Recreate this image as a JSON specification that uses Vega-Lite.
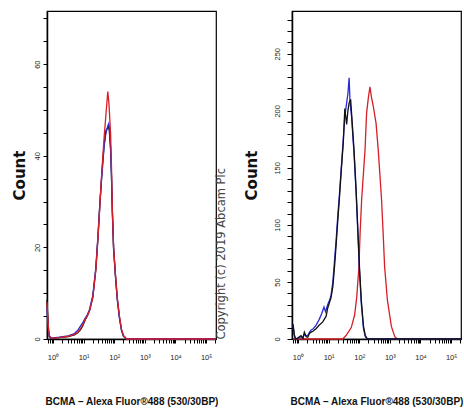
{
  "$schema": "https://vega.github.io/schema/vega-lite/v6.json",
  "background": "white",
  "padding": {"left": 11, "top": 10, "right": 2, "bottom": 2},
  "spacing": 15,
  "config": {
    "view": {"stroke": "#000", "strokeWidth": 1.2},
    "axis": {"grid": false, "domainColor": "#000", "tickColor": "#000", "labelColor": "#222", "labelFont": "Liberation Sans", "labelFontSize": 7.5, "domainWidth": 1.5, "labelOverlap": false, "labelFlush": false}
  },
  "datasets": {
    "left": [
      {"series":"Black","x":0.64,"count":8.5},{"series":"Black","x":0.661,"count":6.5},{"series":"Black","x":0.72,"count":2},{"series":"Black","x":0.76,"count":0.5},{"series":"Black","x":0.89,"count":0.1},{"series":"Black","x":1.6,"count":0.3},{"series":"Black","x":3.16,"count":0.5},{"series":"Black","x":5.0,"count":0.9},{"series":"Black","x":6.3,"count":1.3},{"series":"Black","x":7.9,"count":2.0},{"series":"Black","x":9.3,"count":2.8},{"series":"Black","x":11.2,"count":4.1},{"series":"Black","x":13.2,"count":5.0},{"series":"Black","x":15.8,"count":6.3},{"series":"Black","x":20,"count":9.2},{"series":"Black","x":25.1,"count":15.2},{"series":"Black","x":29.5,"count":22.2},{"series":"Black","x":33.9,"count":29.2},{"series":"Black","x":39.8,"count":36.5},{"series":"Black","x":46.8,"count":42.5},{"series":"Black","x":53.7,"count":45.5},{"series":"Black","x":61.7,"count":46},{"series":"Black","x":66.1,"count":46.5},{"series":"Black","x":69.2,"count":45.5},{"series":"Black","x":75.9,"count":41.5},{"series":"Black","x":81.3,"count":35.5},{"series":"Black","x":87.1,"count":27.5},{"series":"Black","x":95.5,"count":19.5},{"series":"Black","x":110,"count":13.8},{"series":"Black","x":126,"count":8.8},{"series":"Black","x":148,"count":4.8},{"series":"Black","x":174,"count":1.9},{"series":"Black","x":200,"count":0.7},{"series":"Black","x":251,"count":0},{"series":"Black","x":1000,"count":0},{"series":"Black","x":210000,"count":0},
      {"series":"Blue","x":0.64,"count":7},{"series":"Blue","x":0.661,"count":5},{"series":"Blue","x":0.72,"count":1.5},{"series":"Blue","x":0.76,"count":0.5},{"series":"Blue","x":0.89,"count":0.2},{"series":"Blue","x":1.6,"count":0.4},{"series":"Blue","x":3.16,"count":0.7},{"series":"Blue","x":5.0,"count":1.2},{"series":"Blue","x":6.3,"count":1.8},{"series":"Blue","x":7.9,"count":2.8},{"series":"Blue","x":9.3,"count":3.5},{"series":"Blue","x":11.2,"count":4.5},{"series":"Blue","x":13.2,"count":5.3},{"series":"Blue","x":15.8,"count":6.5},{"series":"Blue","x":20,"count":9.5},{"series":"Blue","x":25.1,"count":15.5},{"series":"Blue","x":29.5,"count":22.5},{"series":"Blue","x":33.9,"count":29.5},{"series":"Blue","x":39.8,"count":36},{"series":"Blue","x":46.8,"count":42},{"series":"Blue","x":53.7,"count":45},{"series":"Blue","x":61.7,"count":46.5},{"series":"Blue","x":66.1,"count":47},{"series":"Blue","x":69.2,"count":46},{"series":"Blue","x":75.9,"count":42},{"series":"Blue","x":81.3,"count":36},{"series":"Blue","x":87.1,"count":28},{"series":"Blue","x":95.5,"count":20},{"series":"Blue","x":110,"count":13.5},{"series":"Blue","x":126,"count":8.5},{"series":"Blue","x":148,"count":4.5},{"series":"Blue","x":174,"count":1.8},{"series":"Blue","x":200,"count":0.6},{"series":"Blue","x":251,"count":0},{"series":"Blue","x":1000,"count":0},{"series":"Blue","x":210000,"count":0},
      {"series":"Red","x":0.64,"count":8},{"series":"Red","x":0.661,"count":6},{"series":"Red","x":0.72,"count":2},{"series":"Red","x":0.76,"count":0.8},{"series":"Red","x":0.89,"count":0.2},{"series":"Red","x":1.6,"count":0.3},{"series":"Red","x":3.16,"count":0.6},{"series":"Red","x":5.0,"count":1.0},{"series":"Red","x":6.3,"count":1.4},{"series":"Red","x":7.9,"count":2.2},{"series":"Red","x":9.3,"count":3.0},{"series":"Red","x":11.2,"count":4.3},{"series":"Red","x":13.2,"count":5.0},{"series":"Red","x":15.8,"count":6.2},{"series":"Red","x":20,"count":9},{"series":"Red","x":25.1,"count":15},{"series":"Red","x":29.5,"count":22},{"series":"Red","x":33.9,"count":29},{"series":"Red","x":39.8,"count":37},{"series":"Red","x":46.8,"count":44},{"series":"Red","x":53.7,"count":49},{"series":"Red","x":61.7,"count":54},{"series":"Red","x":66.1,"count":52},{"series":"Red","x":69.2,"count":50},{"series":"Red","x":75.9,"count":45},{"series":"Red","x":81.3,"count":38},{"series":"Red","x":87.1,"count":28},{"series":"Red","x":95.5,"count":20},{"series":"Red","x":110,"count":14},{"series":"Red","x":126,"count":9},{"series":"Red","x":148,"count":5},{"series":"Red","x":174,"count":2},{"series":"Red","x":200,"count":0.8},{"series":"Red","x":251,"count":0},{"series":"Red","x":1000,"count":0},{"series":"Red","x":210000,"count":0}
    ],
    "right": [
      {"series":"Red","x":0.69,"count":0},{"series":"Red","x":28.8,"count":0},{"series":"Red","x":37.2,"count":3},{"series":"Red","x":55,"count":10},{"series":"Red","x":70.8,"count":21},{"series":"Red","x":83.2,"count":37},{"series":"Red","x":97.7,"count":63},{"series":"Red","x":107,"count":93},{"series":"Red","x":120,"count":122},{"series":"Red","x":155,"count":166},{"series":"Red","x":174,"count":198},{"series":"Red","x":200,"count":212},{"series":"Red","x":224,"count":221},{"series":"Red","x":251,"count":212},{"series":"Red","x":288,"count":204},{"series":"Red","x":355,"count":189},{"series":"Red","x":417,"count":166},{"series":"Red","x":537,"count":122},{"series":"Red","x":603,"count":93},{"series":"Red","x":676,"count":63},{"series":"Red","x":832,"count":34},{"series":"Red","x":1122,"count":11},{"series":"Red","x":1445,"count":2},{"series":"Red","x":1778,"count":0},{"series":"Red","x":210000,"count":0},
      {"series":"Blue","x":0.69,"count":12},{"series":"Blue","x":0.76,"count":3},{"series":"Blue","x":0.83,"count":0},{"series":"Blue","x":1.0,"count":0.5},{"series":"Blue","x":1.26,"count":2},{"series":"Blue","x":1.45,"count":1},{"series":"Blue","x":1.62,"count":4},{"series":"Blue","x":1.86,"count":3},{"series":"Blue","x":2.09,"count":3},{"series":"Blue","x":2.4,"count":6},{"series":"Blue","x":2.69,"count":8},{"series":"Blue","x":3.16,"count":9},{"series":"Blue","x":3.89,"count":12},{"series":"Blue","x":4.9,"count":17},{"series":"Blue","x":5.89,"count":22},{"series":"Blue","x":7.08,"count":28},{"series":"Blue","x":7.94,"count":24},{"series":"Blue","x":9.33,"count":30},{"series":"Blue","x":10.7,"count":34},{"series":"Blue","x":12.0,"count":38},{"series":"Blue","x":13.8,"count":50},{"series":"Blue","x":15.8,"count":70},{"series":"Blue","x":17.8,"count":88},{"series":"Blue","x":20.0,"count":108},{"series":"Blue","x":22.4,"count":125},{"series":"Blue","x":26.3,"count":152},{"series":"Blue","x":30.2,"count":175},{"series":"Blue","x":33.9,"count":195},{"series":"Blue","x":38.0,"count":205},{"series":"Blue","x":42.7,"count":215},{"series":"Blue","x":46.8,"count":229},{"series":"Blue","x":50.1,"count":208},{"series":"Blue","x":56.2,"count":195},{"series":"Blue","x":67.6,"count":163},{"series":"Blue","x":79.4,"count":128},{"series":"Blue","x":91.2,"count":90},{"series":"Blue","x":102,"count":60},{"series":"Blue","x":117,"count":31},{"series":"Blue","x":138,"count":9},{"series":"Blue","x":158,"count":2},{"series":"Blue","x":186,"count":0},{"series":"Blue","x":210000,"count":0},
      {"series":"Black","x":0.69,"count":13},{"series":"Black","x":0.76,"count":4},{"series":"Black","x":0.83,"count":0},{"series":"Black","x":1.0,"count":1},{"series":"Black","x":1.26,"count":3},{"series":"Black","x":1.45,"count":0.5},{"series":"Black","x":1.62,"count":6},{"series":"Black","x":1.86,"count":2},{"series":"Black","x":2.09,"count":1.5},{"series":"Black","x":2.4,"count":5},{"series":"Black","x":2.69,"count":6},{"series":"Black","x":3.16,"count":7},{"series":"Black","x":3.89,"count":9},{"series":"Black","x":4.9,"count":12},{"series":"Black","x":6.46,"count":15},{"series":"Black","x":8.32,"count":20},{"series":"Black","x":9.33,"count":27},{"series":"Black","x":10.7,"count":32},{"series":"Black","x":12.0,"count":36},{"series":"Black","x":13.8,"count":46},{"series":"Black","x":15.8,"count":65},{"series":"Black","x":17.8,"count":84},{"series":"Black","x":20.0,"count":104},{"series":"Black","x":22.4,"count":122},{"series":"Black","x":26.3,"count":150},{"series":"Black","x":30.2,"count":172},{"series":"Black","x":33.9,"count":202},{"series":"Black","x":36.3,"count":195},{"series":"Black","x":38.9,"count":188},{"series":"Black","x":42.7,"count":200},{"series":"Black","x":46.8,"count":207},{"series":"Black","x":52.5,"count":210},{"series":"Black","x":58.9,"count":190},{"series":"Black","x":67.6,"count":166},{"series":"Black","x":79.4,"count":130},{"series":"Black","x":91.2,"count":93},{"series":"Black","x":102,"count":63},{"series":"Black","x":117,"count":34},{"series":"Black","x":138,"count":11},{"series":"Black","x":158,"count":3},{"series":"Black","x":186,"count":0},{"series":"Black","x":210000,"count":0}
    ]
  },
  "hconcat": [
    {
      "width": 169,
      "height": 328,
      "data": {"name": "left"},
      "layer": [
        {
          "mark": {"type": "line", "strokeWidth": 1.3},
          "encoding": {
            "x": {"field": "x", "type": "quantitative", "scale": {"type": "log", "domain": [0.64, 210000], "nice": false},
              "axis": {"values": [0.7,0.8,0.9,1,2,3,4,5,6,7,8,9,10,20,30,40,50,60,70,80,90,100,200,300,400,500,600,700,800,900,1000,2000,3000,4000,5000,6000,7000,8000,9000,10000,20000,30000,40000,50000,60000,70000,80000,90000,100000,200000],
                "labelExpr": "indexof([1,10,100,1000,10000,100000], datum.value) >= 0 ? '10' + ['⁰','¹','²','³','⁴','⁵'][indexof([1,10,100,1000,10000,100000], datum.value)] : ''",
                "tickSize": 4, "labelPadding": 10, "title": "BCMA – Alexa Fluor®488 (530/30BP)", "titleFont": "Liberation Sans", "titleFontSize": 10, "titleFontWeight": "bold", "titleColor": "#111", "titlePadding": 36}},
            "y": {"field": "count", "type": "quantitative", "scale": {"domain": [0, 71.6], "nice": false},
              "axis": {"values": [0,5,10,15,20,25,30,35,40,45,50,55,60,65,70], "labelExpr": "datum.value % 20 == 0 ? datum.label : ''", "labelAngle": 270, "tickSize": 4, "labelPadding": 2, "title": "Count", "titleFont": "DejaVu Sans", "titleFontSize": 15, "titleFontWeight": "bold", "titleColor": "#111", "titlePadding": 6}},
            "color": {"field": "series", "type": "nominal", "scale": {"domain": ["Black", "Blue", "Red"], "range": ["#111111", "#2a2ad8", "#d61f26"]}, "legend": null}
          }
        },
        {
          "mark": {"type": "rule", "opacity": 0},
          "encoding": {
            "y": {"datum": 0, "type": "quantitative", "axis": {"orient": "right", "labels": false, "ticks": false, "domain": false, "title": "Copyright (c) 2019 Abcam Plc", "titleAngle": 270, "titleFont": "DejaVu Sans", "titleFontSize": 11.5, "titleFontWeight": "normal", "titleColor": "#444", "titlePadding": 10, "titleAnchor": "start"}}
          }
        }
      ],
      "resolve": {"axis": {"y": "independent"}}
    },
    {
      "width": 169,
      "height": 328,
      "data": {"name": "right"},
      "mark": {"type": "line", "strokeWidth": 1.3},
      "encoding": {
        "x": {"field": "x", "type": "quantitative", "scale": {"type": "log", "domain": [0.64, 210000], "nice": false},
          "axis": {"values": [0.7,0.8,0.9,1,2,3,4,5,6,7,8,9,10,20,30,40,50,60,70,80,90,100,200,300,400,500,600,700,800,900,1000,2000,3000,4000,5000,6000,7000,8000,9000,10000,20000,30000,40000,50000,60000,70000,80000,90000,100000,200000],
            "labelExpr": "indexof([1,10,100,1000,10000,100000], datum.value) >= 0 ? '10' + ['⁰','¹','²','³','⁴','⁵'][indexof([1,10,100,1000,10000,100000], datum.value)] : ''",
            "tickSize": 4, "labelPadding": 10, "title": "BCMA – Alexa Fluor®488 (530/30BP)", "titleFont": "Liberation Sans", "titleFontSize": 10, "titleFontWeight": "bold", "titleColor": "#111", "titlePadding": 36}},
        "y": {"field": "count", "type": "quantitative", "scale": {"domain": [0, 287.5], "nice": false},
          "axis": {"values": [0,10,20,30,40,50,60,70,80,90,100,110,120,130,140,150,160,170,180,190,200,210,220,230,240,250,260,270,280], "labelExpr": "datum.value % 50 == 0 ? datum.label : ''", "labelAngle": 270, "tickSize": 5, "labelPadding": 6, "title": "Count", "titleFont": "DejaVu Sans", "titleFontSize": 15, "titleFontWeight": "bold", "titleColor": "#111", "titlePadding": 14}},
        "color": {"field": "series", "type": "nominal", "scale": {"domain": ["Red", "Blue", "Black"], "range": ["#d61f26", "#2a2ad8", "#111111"]}, "legend": null}
      }
    }
  ]
}
